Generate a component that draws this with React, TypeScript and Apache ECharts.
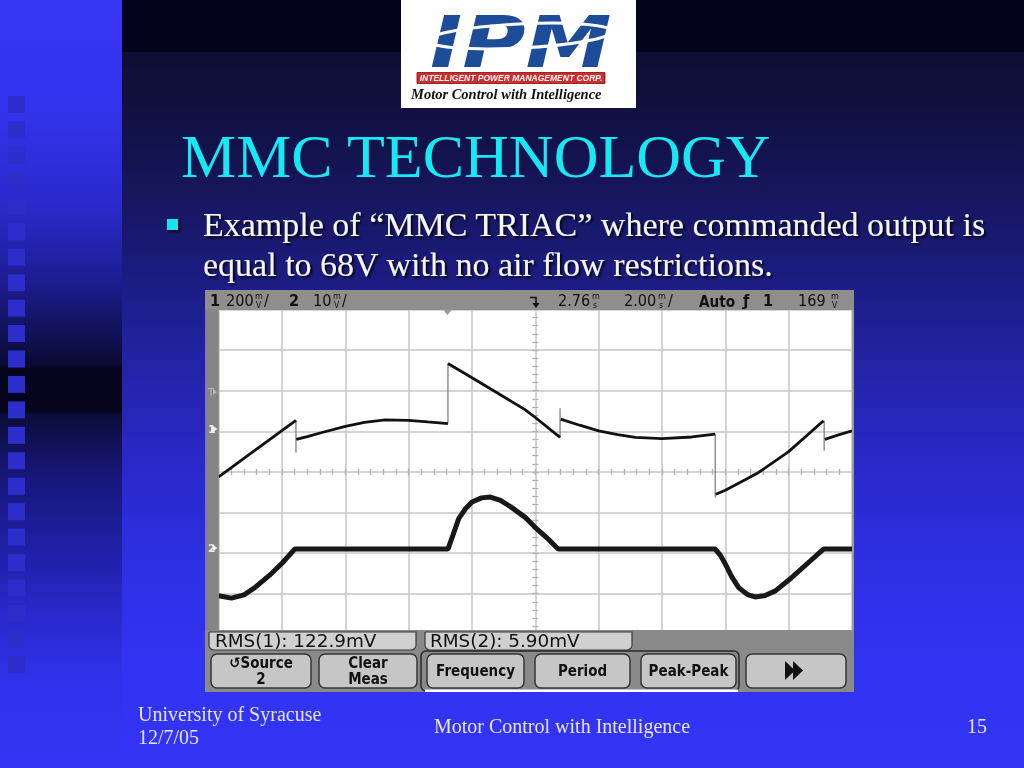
import React, { useEffect, useRef } from "react";
import * as echarts from "echarts";

// ---- Oscilloscope data (x in divisions 0..10, y in divisions -4..4) ----
const ch1Segments: number[][][] = [
  [[0, -0.12], [1.22, 1.27]],
  [[1.225, 0.8], [1.4, 0.87], [1.63, 0.97], [2.0, 1.12], [2.3, 1.22], [2.63, 1.28], [3.0, 1.27], [3.3, 1.23], [3.62, 1.19]],
  [[3.62, 2.67], [4.0, 2.32], [4.5, 1.85], [4.83, 1.54], [5.0, 1.34], [5.39, 0.85]],
  [[5.4, 1.3], [5.7, 1.15], [6.0, 1.01], [6.3, 0.92], [6.58, 0.85], [7.0, 0.82], [7.47, 0.86], [7.84, 0.93]],
  [[7.85, -0.55], [8.0, -0.45], [8.52, -0.02], [9.0, 0.5], [9.55, 1.26]],
  [[9.57, 0.8], [9.8, 0.92], [10, 1.01]],
];
const ch1Edges: number[][][] = [
  [[1.22, 1.27], [1.22, 0.48]],
  [[3.62, 1.19], [3.62, 2.67]],
  [[5.39, 0.85], [5.39, 1.57]],
  [[7.84, 0.93], [7.84, -0.63]],
  [[9.56, 1.26], [9.56, 0.52]],
];
const ch2Trace: number[][] = [
  [0, -3.05], [0.2, -3.11], [0.4, -3.03], [0.57, -2.85], [0.8, -2.55], [1.0, -2.25], [1.19, -1.92], [1.2, -1.9],
  [3.62, -1.9], [3.7, -1.55], [3.79, -1.15], [3.9, -0.9], [4.0, -0.74], [4.15, -0.64], [4.29, -0.62], [4.45, -0.7],
  [4.63, -0.88], [4.84, -1.12], [5.0, -1.37], [5.2, -1.65], [5.36, -1.9], [7.84, -1.9], [7.92, -2.05], [8.0, -2.27],
  [8.1, -2.58], [8.21, -2.85], [8.35, -3.02], [8.47, -3.08], [8.62, -3.05], [8.79, -2.93], [9.05, -2.6], [9.3, -2.25],
  [9.55, -1.9], [10, -1.9],
];

// ---- Texts ----
const titleText = "MMC TECHNOLOGY";
const bulletLines = ["Example of \u201CMMC TRIAC\u201D where commanded output is", "equal to 68V with no air flow restrictions."];
const footerLeft = ["University of Syracuse", "12/7/05"];
const footerCenter = "Motor Control with Intelligence";
const footerRight = "15";
const logoLetters = "IPM";
const logoBar = "INTELLIGENT POWER MANAGEMENT CORP.";
const logoTagline = "Motor Control with Intelligence";
const headerLabels = [
  { t: "1", x: 210, b: true }, { t: "200", x: 226 }, { t: "/", x: 264 },
  { t: "2", x: 289, b: true }, { t: "10", x: 313 }, { t: "/", x: 342 },
  { t: "2.76", x: 558 }, { t: "2.00", x: 624 }, { t: "/", x: 668 },
  { t: "Auto", x: 699, b: true, s: 15.5 }, { t: "\u0192", x: 743, b: true }, { t: "1", x: 763, b: true }, { t: "169", x: 798 },
];
const headerUnits = [
  { top: "m", bot: "V", x: 255 }, { top: "m", bot: "V", x: 333 }, { top: "m", bot: "s", x: 592 },
  { top: "m", bot: "s", x: 658 }, { top: "m", bot: "V", x: 831 },
];
const rmsLabels = ["RMS(1): 122.9mV", "RMS(2): 5.90mV"];
const buttonLabels = [["\u21BASource", "2"], ["Clear", "Meas"], ["Frequency"], ["Period"], ["Peak-Peak"], []];

function T(x: number, y: number, text: string, o: any = {}) {
  const st: any = {
    text,
    fill: o.fill ?? "#111",
    fontSize: o.size ?? 15,
    fontFamily: o.family ?? "DejaVu Sans",
    fontWeight: o.weight ?? "normal",
    fontStyle: o.fstyle ?? "normal",
    align: o.align ?? "left",
    textAlign: o.align ?? "left",
    verticalAlign: "middle",
    textVerticalAlign: "middle",
  };
  if (o.lh) st.lineHeight = o.lh;
  if (o.shadow) {
    st.textShadowColor = o.shadow;
    st.textShadowOffsetX = 2;
    st.textShadowOffsetY = 2;
    st.textShadowBlur = 2;
  }
  return { type: "text", x, y, z: o.z ?? 30, scaleX: o.sx ?? 1, silent: true, style: st };
}
function R(x: number, y: number, w: number, h: number, fill: any, o: any = {}) {
  return {
    type: "rect",
    z: o.z ?? 20,
    silent: true,
    shape: { x, y, width: w, height: h, r: o.r ?? 0 },
    style: { fill, stroke: o.stroke ?? null, lineWidth: o.lw ?? 0, shadowColor: o.sc, shadowOffsetX: o.sc ? 2 : 0, shadowOffsetY: o.sc ? 2 : 0, shadowBlur: o.sc ? 2 : 0 },
  };
}

export default function App() {
  const ref = useRef<HTMLDivElement>(null);
  useEffect(() => {
    if (!ref.current) return;
    const chart = echarts.init(ref.current, undefined, { renderer: "svg" });
    const g: any[] = [];
    const G = echarts.graphic as any;

    // Backgrounds
    g.push(R(0, 0, 122, 768, new G.LinearGradient(0, 0, 0, 1, [
      { offset: 0, color: "#3535f4" }, { offset: 0.14, color: "#3333ec" }, { offset: 0.27, color: "#2a2acc" },
      { offset: 0.37, color: "#1c1c8e" }, { offset: 0.44, color: "#101052" }, { offset: 0.475, color: "#0a0a32" },
      { offset: 0.48, color: "#05051e" }, { offset: 0.535, color: "#04041a" }, { offset: 0.54, color: "#0c0c3a" },
      { offset: 0.62, color: "#17177a" }, { offset: 0.72, color: "#2020a8" }, { offset: 0.81, color: "#2a2ad0" },
      { offset: 0.89, color: "#3131ec" }, { offset: 1, color: "#3434f4" },
    ]), { z: -10 }));
    g.push(R(122, 0, 902, 52, "#03031c", { z: -10 }));
    g.push(R(122, 52, 902, 716, new G.LinearGradient(0, 0, 0, 1, [
      { offset: 0, color: "#0e0e32" }, { offset: 0.14, color: "#13134e" }, { offset: 0.28, color: "#1a1a76" },
      { offset: 0.42, color: "#2222a2" }, { offset: 0.56, color: "#2828c6" }, { offset: 0.7, color: "#2e2ee2" },
      { offset: 0.85, color: "#3232f2" }, { offset: 1, color: "#3434f6" },
    ]), { z: -10 }));
    for (let cy = 104.5; cy < 680; cy += 25.45) g.push(R(8, cy - 8.5, 17, 17, "#2d2dcc", { z: -9 }));

    // Logo
    g.push(R(401, 0, 235, 108, "#ffffff", { z: -8 }));
    g.push(T(430, 42.5, logoLetters, { size: 72, weight: "bold", fstyle: "italic", fill: "#1d4c98", sx: 1.2, z: -7 }));
    g.push({ type: "ellipse", z: -6, silent: true, rotation: 0.05, x: 520, y: 36, shape: { cx: 0, cy: 0, rx: 92, ry: 12 }, style: { fill: null, stroke: "#ffffff", lineWidth: 3 } });
    g.push(R(417, 72.5, 188, 11, "#d32b2b", { z: -7, stroke: "#7a1010", lw: 0.8 }));
    g.push(T(511, 78.3, logoBar, { size: 8.5, weight: "bold", fstyle: "italic", family: "Liberation Sans", fill: "#ffffff", align: "center", z: -6 }));
    g.push(T(411, 94, logoTagline, { size: 14.5, weight: "bold", fstyle: "italic", family: "Liberation Serif", fill: "#111", z: -6 }));

    // Title and bullet
    g.push(T(181, 156, titleText, { size: 62, family: "Liberation Serif", fill: "#16e8f4", z: -6 }));
    g.push(R(167, 219, 11, 11, "#12e2f2", { z: -6, sc: "rgba(0,0,0,0.8)" }));
    bulletLines.forEach((line, i) => g.push(T(203, 224.5 + i * 40, line, { size: 34, family: "Liberation Serif", fill: "#f6f6f6", shadow: "rgba(0,0,0,0.85)", z: -6 })));

    // Footer
    footerLeft.forEach((line, i) => g.push(T(138, 714 + i * 23, line, { size: 20, family: "Liberation Serif", fill: "#e6e6f6", z: -6 })));
    g.push(T(562, 726, footerCenter, { size: 20, family: "Liberation Serif", fill: "#e6e6f6", align: "center", z: -6 }));
    g.push(T(987, 726, footerRight, { size: 20, family: "Liberation Serif", fill: "#e6e6f6", align: "right", z: -6 }));

    // Scope frame
    g.push(R(218.7, 309.5, 633.3, 321, "#ffffff", { z: -5 }));
    g.push(R(205, 290, 649, 20, "#8e8e8e", { z: 20 }));
    g.push(R(205, 309.5, 13.7, 321, "#858585", { z: 20 }));
    g.push(R(205, 309.5, 2, 321, "#7a7ab4", { z: 21 }));
    g.push(R(852, 309.5, 2, 321, "#9a9a9a", { z: 20 }));
    headerLabels.forEach((h: any) => g.push(T(h.x, 301, h.t, { size: h.s ?? 16.5, weight: h.b ? "bold" : "normal", sx: 0.88 })));
    headerUnits.forEach((u) => {
      g.push(T(u.x, 296, u.top, { size: 9, sx: 0.9 }));
      g.push(T(u.x + 1, 304.5, u.bot, { size: 8.5, sx: 0.9 }));
    });
    g.push({ type: "polyline", z: 30, silent: true, shape: { points: [[530, 297.5], [536, 297.5], [536, 305]] }, style: { stroke: "#111", lineWidth: 1.6, fill: null } });
    g.push({ type: "polygon", z: 30, silent: true, shape: { points: [[532.5, 303], [539.5, 303], [536, 308]] }, style: { fill: "#111" } });
    g.push({ type: "polygon", z: 21, silent: true, shape: { points: [[443, 309.5], [452, 309.5], [447.5, 315]] }, style: { fill: "#9a9a9a" } });
    g.push(T(208, 392, "T", { size: 10, fill: "#b8b8b8" }));
    g.push({ type: "polygon", z: 30, silent: true, shape: { points: [[213, 389], [217, 392], [213, 395]] }, style: { fill: "#b8b8b8" } });
    [[429, "1"], [548, "2"]].forEach(([yy, lab]: any) => {
      g.push(T(208, yy, lab, { size: 11, weight: "bold", fill: "#f0f0f0" }));
      g.push({ type: "polygon", z: 30, silent: true, shape: { points: [[213, yy - 3], [217.5, yy], [213, yy + 3]] }, style: { fill: "#f0f0f0" } });
    });

    // Bottom panel
    g.push(R(205, 630, 649, 62, "#8a8a8a", { z: 20 }));
    g.push(R(209, 632, 207, 18, "#d0d0d0", { z: 21, r: [0, 0, 5, 5], stroke: "#3a3a3a", lw: 1.2 }));
    g.push(R(425, 632, 207, 18, "#d0d0d0", { z: 21, r: [0, 0, 5, 5], stroke: "#3a3a3a", lw: 1.2 }));
    g.push(T(215, 641, rmsLabels[0], { size: 17.5, sx: 1.05 }));
    g.push(T(430, 641, rmsLabels[1], { size: 17.5, sx: 1.05 }));
    g.push(R(421, 651, 318, 40, null, { z: 21, r: 5, stroke: "#2a2a2a", lw: 1.5 }));
    g.push(R(425, 689.5, 313, 2.5, "#ffffff", { z: 21 }));
    const btnX = [211, 319, 427, 535, 641, 746];
    const btnW = [100, 98, 97, 95, 95, 100];
    btnX.forEach((bx, i) => {
      g.push(R(bx, 654, btnW[i], 34, "#c6c6c6", { z: 22, r: 6, stroke: "#363636", lw: 1.5 }));
      const labs = buttonLabels[i];
      const cx = bx + btnW[i] / 2;
      if (labs.length === 2) {
        g.push(T(cx, 663, labs[0], { size: 15, weight: "bold", sx: 0.9, align: "center" }));
        g.push(T(cx, 679, labs[1], { size: 15, weight: "bold", sx: 0.9, align: "center" }));
      } else if (labs.length === 1) {
        g.push(T(cx, 670.5, labs[0], { size: 15, weight: "bold", sx: 0.9, align: "center" }));
      }
    });
    g.push({ type: "polygon", z: 30, silent: true, shape: { points: [[785, 661], [795, 670.5], [785, 680]] }, style: { fill: "#111" } });
    g.push({ type: "polygon", z: 30, silent: true, shape: { points: [[793, 661], [803, 670.5], [793, 680]] }, style: { fill: "#111" } });

    const hidden = { axisLabel: { show: false }, splitLine: { show: false } };
    const tickStyle = { color: "#b0b0b0", width: 1.3 };
    const series: any[] = [];
    series.push({ type: "line", data: ch2Trace, symbol: "none", z: 3, lineStyle: { color: "#181818", width: 5 } });
    ch1Segments.forEach((s) => series.push({ type: "line", data: s, symbol: "none", z: 4, lineStyle: { color: "#111", width: 2.8 } }));
    ch1Edges.forEach((s) => series.push({ type: "line", data: s, symbol: "none", z: 3, lineStyle: { color: "#6a6a6a", width: 1.1 } }));

    chart.setOption({
      animation: false,
      grid: { left: 218.7, top: 309.5, width: 633.3, height: 324.8, show: false },
      xAxis: [
        { type: "value", min: 0, max: 10, interval: 1, axisLine: { show: false }, axisTick: { show: false }, axisLabel: { show: false }, splitLine: { show: true, lineStyle: { color: "#c6c6c6", width: 1.5 } } },
        { type: "value", min: 0, max: 10, interval: 1, position: "bottom", offset: -162.4, axisLine: { show: false, onZero: false }, axisTick: { show: true, length: 3, lineStyle: tickStyle }, minorTick: { show: true, splitNumber: 5, length: 3, lineStyle: tickStyle }, ...hidden },
        { type: "value", min: 0, max: 10, interval: 1, position: "bottom", offset: -162.4, axisLine: { show: false, onZero: false }, axisTick: { show: true, inside: true, length: 3, lineStyle: tickStyle }, minorTick: { show: true, splitNumber: 5, length: 3, lineStyle: tickStyle }, ...hidden },
      ],
      yAxis: [
        { type: "value", min: -4, max: 4, interval: 1, axisLine: { show: false }, axisTick: { show: false }, axisLabel: { show: false }, splitLine: { show: true, lineStyle: { color: "#c6c6c6", width: 1.5 } } },
        { type: "value", min: -4, max: 4, interval: 1, position: "left", offset: -316.65, axisLine: { show: false, onZero: false }, axisTick: { show: true, length: 3, lineStyle: tickStyle }, minorTick: { show: true, splitNumber: 5, length: 3, lineStyle: tickStyle }, ...hidden },
        { type: "value", min: -4, max: 4, interval: 1, position: "left", offset: -316.65, axisLine: { show: false, onZero: false }, axisTick: { show: true, inside: true, length: 3, lineStyle: tickStyle }, minorTick: { show: true, splitNumber: 5, length: 3, lineStyle: tickStyle }, ...hidden },
      ],
      series,
      graphic: g,
    });
    return () => chart.dispose();
  }, []);
  return <div ref={ref} style={{ position: "fixed", left: 0, top: 0, width: 1024, height: 768 }} />;
}
